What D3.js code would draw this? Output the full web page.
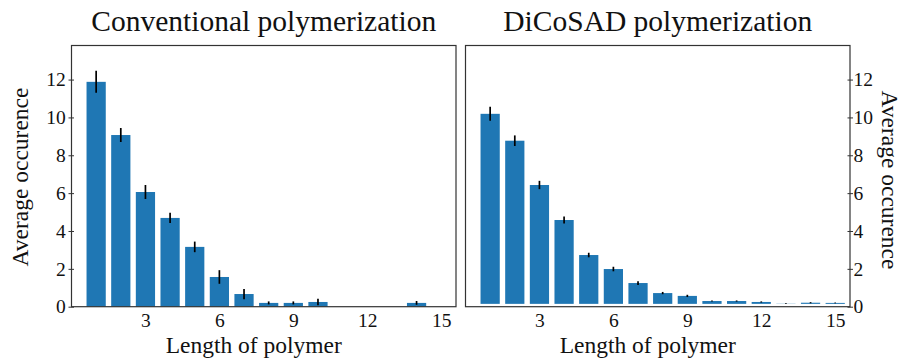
<!DOCTYPE html>
<html><head><meta charset="utf-8">
<script src="https://cdn.jsdelivr.net/npm/d3@7"></script>
<style>body{margin:0;background:#fff}svg{display:block}svg text{font-family:"Liberation Serif","DejaVu Serif",serif}</style>
</head><body>
<script>
const lengths = [1,2,3,4,5,6,7,8,9,10,11,12,13,14,15];
const convValues = [11.88,9.07,6.06,4.69,3.16,1.57,0.67,0.2,0.2,0.25,0,0,0,0.2,0];
const convErrors = [0.58,0.37,0.37,0.27,0.28,0.36,0.27,0.08,0.08,0.17,0,0,0,0.1,0];
const dicoValues = [10.19,8.77,6.43,4.58,2.73,1.99,1.25,0.72,0.57,0.30,0.30,0.25,0.16,0.21,0.20];
const dicoErrors = [0.37,0.28,0.22,0.18,0.12,0.12,0.10,0.06,0.06,0.03,0.03,0.03,0.02,0.03,0.02];
const dicoBase = 0.15;
const xTicks = [3,6,9,12,15];
const yTicks = [0,2,4,6,8,10,12];
const titles = ["Conventional polymerization","DiCoSAD polymerization"];
const xLabel = "Length of polymer";
const yLabel = "Average occurence";

const W = 902, H = 358;
const svg = d3.select("body").append("svg").attr("width",W).attr("height",H);
const font = "Liberation Serif";
const plotTop = 45.5, plotBottom = 306.7;

const panels = [
  {x0:71.5, x1:456, vals:convValues, errs:convErrors, base:0, side:"left", title:titles[0]},
  {x0:465.5, x1:850, vals:dicoValues, errs:dicoErrors, base:dicoBase, side:"right", title:titles[1]}
];

function txt(sel, size) {
  sel.style("font-family", font).style("font-size", size + "px").attr("fill", "#111");
}

panels.forEach(p => {
  const x = d3.scaleLinear().domain([0,15.6]).range([p.x0,p.x1]);
  const y = d3.scaleLinear().domain([0,13.8]).range([plotBottom,plotTop]);
  const g = svg.append("g");
  const bw = x(0.78)-x(0);
  g.selectAll("rect.bar").data(lengths).join("rect")
    .attr("x", d => x(d)-bw/2)
    .attr("width", bw)
    .attr("y", (d,i) => y(p.vals[i]))
    .attr("height", (d,i) => Math.max(0, y(p.base) - y(p.vals[i])))
    .attr("fill","#1f77b4");
  g.selectAll("line.err").data(lengths.filter((d,i)=>p.errs[i]>0)).join("line")
    .attr("x1", d=>x(d)).attr("x2", d=>x(d))
    .attr("y1", d=>y(p.vals[d-1]-p.errs[d-1]))
    .attr("y2", d=>y(p.vals[d-1]+p.errs[d-1]))
    .attr("stroke","#000").attr("stroke-width",1.7);
  g.append("rect").attr("x",p.x0).attr("y",plotTop).attr("width",p.x1-p.x0).attr("height",plotBottom-plotTop)
    .attr("fill","none").attr("stroke","#333").attr("stroke-width",1.2);
  const xa = g.append("g").attr("transform",`translate(0,${plotBottom})`)
    .call(d3.axisBottom(x).tickValues(xTicks).tickSize(0).tickPadding(6).tickFormat(d3.format("d")));
  xa.select(".domain").remove();
  txt(xa.selectAll("text"), 19.5);
  const ax = p.side==="left" ? d3.axisLeft(y) : d3.axisRight(y);
  const ya = g.append("g").attr("transform",`translate(${p.side==="left"?p.x0:p.x1},0)`)
    .call(ax.tickValues(yTicks).tickSize(3).tickPadding(p.side==="left"?2.7:0.5).tickFormat(d3.format("d")));
  ya.select(".domain").remove();
  ya.selectAll(".tick line").attr("x1", p.side==="left"?2.5:-2.5).attr("stroke","#333");
  txt(ya.selectAll("text"), 19.5);
  txt(svg.append("text").attr("x",(p.x0+p.x1)/2).attr("y",31).attr("text-anchor","middle").text(p.title), 29.5);
  txt(svg.append("text").attr("x",(p.x0+p.x1)/2 - 10).attr("y",353).attr("text-anchor","middle").text(xLabel), 23.5);
  if (p.side==="left") {
    txt(svg.append("text").attr("transform",`translate(28,177) rotate(-90)`).attr("text-anchor","middle").text(yLabel), 23.5);
  } else {
    txt(svg.append("text").attr("transform",`translate(882,180) rotate(90)`).attr("text-anchor","middle").text(yLabel), 23.5);
  }
});
</script>
</body></html>
